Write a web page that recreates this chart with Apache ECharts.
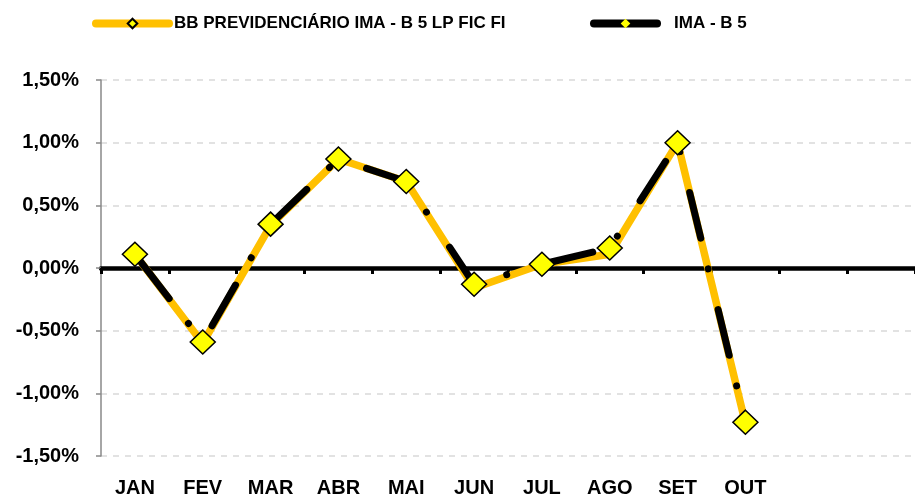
<!DOCTYPE html>
<html>
<head>
<meta charset="utf-8">
<script src="https://cdn.jsdelivr.net/npm/echarts@6/dist/echarts.min.js"></script>
<style>
html,body{margin:0;padding:0;background:#fff;}
#c{width:915px;height:500px;}
</style>
</head>
<body>
<div id="c"></div>
<script>
var categories = ['JAN','FEV','MAR','ABR','MAI','JUN','JUL','AGO','SET','OUT','NOV','DEZ'];
var categoryLabels = ['JAN','FEV','MAR','ABR','MAI','JUN','JUL','AGO','SET','OUT','',''];
var seriesNames = ['BB PREVIDENCIÁRIO IMA - B 5 LP FIC FI', 'IMA - B 5'];
var bbValues = [0.11, -0.60, 0.34, 0.87, 0.69, -0.16, 0.03, 0.11, 1.00, -1.24, null, null];
var imaValues = [0.11, -0.59, 0.35, 0.87, 0.69, -0.13, 0.03, 0.16, 1.00, -1.23, null, null];
var yTicks = [-1.5, -1.0, -0.5, 0, 0.5, 1.0, 1.5];

var FONT = '"Liberation Sans", Arial, sans-serif';
var legendText = {fontFamily: FONT, fontWeight: 'bold', fontSize: 17, color: '#000'};
var chart = echarts.init(document.getElementById('c'), null, {renderer:'canvas'});
chart.setOption({
  animation: false,
  backgroundColor: '#ffffff',
  legend: [
    {
      left: 87, top: 10, itemWidth: 73, itemHeight: 12,
      textStyle: legendText,
      data: [
        {name: seriesNames[0], itemStyle: {color: '#FFFF00', borderColor: '#000', borderWidth: 2},
         lineStyle: {type: 'solid', cap: 'round', width: 8, color: '#FFC000'}}
      ]
    },
    {
      left: 585, top: 10, itemWidth: 63, itemHeight: 12,
      textStyle: Object.assign({padding: [0, 0, 0, 12]}, legendText),
      data: [
        {name: seriesNames[1], itemStyle: {color: '#FFFF00', borderColor: '#FFFF00', borderWidth: 0},
         lineStyle: {type: 'solid', cap: 'round', width: 8, color: '#000'}}
      ]
    }
  ],
  grid: {left: 101, right: 0, top: 80, bottom: 44, containLabel: false},
  xAxis: [
    {
      type: 'category', data: categoryLabels, boundaryGap: true, position: 'bottom',
      axisLine: {show: false, onZero: false},
      axisTick: {show: false},
      axisLabel: {interval: 0, margin: 22, fontFamily: FONT, fontWeight: 'bold', fontSize: 20, color: '#000'},
      splitLine: {show: false}
    },
    {
      type: 'category', data: categories, boundaryGap: true, position: 'top',
      axisLine: {show: true, onZero: true, lineStyle: {color: '#000', width: 4.5}},
      axisTick: {show: true, inside: true, length: 6, lineStyle: {color: '#000', width: 3}},
      axisLabel: {show: false},
      splitLine: {show: false}
    }
  ],
  yAxis: {
    type: 'value', min: yTicks[0], max: yTicks[yTicks.length-1], interval: 0.5,
    axisLine: {show: true, lineStyle: {color: '#898989', width: 1.5}},
    axisTick: {show: true, length: 5, lineStyle: {color: '#898989', width: 1.5}},
    axisLabel: {
      margin: 22, fontFamily: FONT, fontWeight: 'bold', fontSize: 20, color: '#000',
      formatter: function(v){ return v.toFixed(2).replace('.', ',') + '%'; }
    },
    splitLine: {show: true, lineStyle: {color: '#d9d9d9', width: 1.5, type: [6, 6]}}
  },
  series: [
    {
      name: seriesNames[0], type: 'line', data: bbValues, xAxisIndex: 0,
      symbol: 'diamond', symbolSize: 8, showSymbol: false,
      itemStyle: {color: '#FFFF00', borderColor: '#000', borderWidth: 2},
      lineStyle: {color: '#FFC000', width: 7.5, cap: 'round', join: 'round'},
      z: 3
    },
    {
      name: seriesNames[1], type: 'line', data: imaValues, xAxisIndex: 0,
      symbol: 'diamond', symbolSize: [25, 24],
      itemStyle: {color: '#FFFF00', borderColor: '#000', borderWidth: 1.5},
      lineStyle: {color: '#000', width: 7, type: [47, 31.5, 0.01, 42], dashOffset: 111.5, cap: 'round', join: 'round'},
      z: 4
    }
  ]
});
</script>
</body>
</html>
